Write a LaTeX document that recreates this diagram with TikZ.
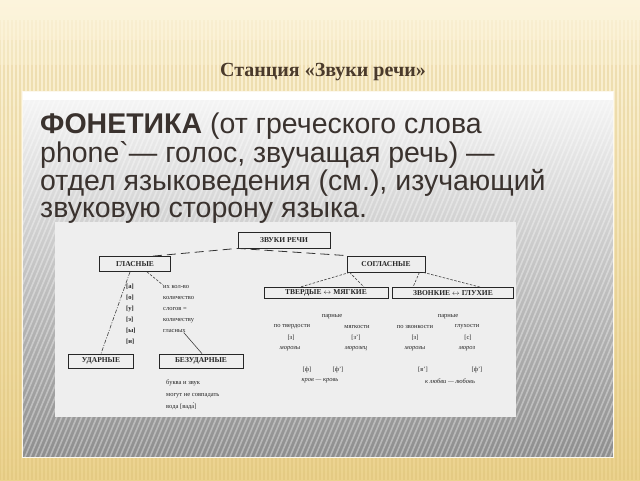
\documentclass[tikz,border=0pt]{standalone}
\usepackage{fontspec}
\setmainfont{Liberation Serif}
\newfontfamily\arialfont{Liberation Sans}

\definecolor{slideTop}{HTML}{FCF4DC}
\definecolor{slideBot}{HTML}{EBD28D}
\definecolor{slideStripe}{HTML}{D6BA6C}
\definecolor{titleBrown}{HTML}{4A3A2B}
\definecolor{panelTop}{HTML}{F7F7F7}
\definecolor{panelMid}{HTML}{BEBEBE}
\definecolor{panelBot}{HTML}{8E8E8E}
\definecolor{inkDark}{HTML}{3A322E}
\definecolor{chartBg}{HTML}{EEEEEE}

\tikzset{
  box/.style={draw=black!85, line width=0.8pt, inner sep=0pt, text=black!85,
    font=\bfseries\fontsize{7.5}{8}\selectfont},
  note/.style={inner sep=0pt, text=black!85, font=\fontsize{6.5}{7}\selectfont},
  noteit/.style={note, font=\itshape\fontsize{6.5}{7}\selectfont},
  bigline/.style={anchor=base west, inner sep=0pt, text=inkDark,
    font=\arialfont\fontsize{28.5}{30}\selectfont},
  link/.style={draw=black!75, line width=0.6pt, dash pattern=on 2.5pt off 1.5pt},
  stripe/.style={slideStripe, line width=1.2pt}
}

\begin{document}
\begin{tikzpicture}[x=1pt,y=-1pt]
  \useasboundingbox (0,0) rectangle (640,480);

  % slide background with stripes, fading towards the top
  \shade[top color=slideTop, bottom color=slideBot] (0,0) rectangle (640,480);
  \foreach \i in {0,4,...,640} {
    \draw[stripe, opacity=0.08] (\i,20) -- (\i,40);
    \draw[stripe, opacity=0.18] (\i,40) -- (\i,65);
    \draw[stripe, opacity=0.3] (\i,65) -- (\i,480);
  }

  % title
  \node[font=\bfseries\fontsize{20}{22}\selectfont, text=titleBrown] (title) at (323,72) {Станция «Звуки речи»};

  % grey panel
  \shade[top color=panelTop, middle color=panelMid, bottom color=panelBot] (22,91) rectangle (613,457);
  \begin{scope}
    \clip (22,100) rectangle (613,457);
    \foreach \i in {-160,-155,...,615}
      \draw[white, opacity=0.35, line width=1.6pt] (\i,457) -- (\i+150,100);
  \end{scope}
  \fill[white] (22,91) rectangle (613,100);
  \draw[white!85!slideBot, line width=0.8pt] (22,91) rectangle (613,457);

  % chart background
  \fill[chartBg] (55,222) rectangle (516,417);

  % definition text
  \node[bigline] (l1) at (40,133) {\textbf{ФОНЕТИКА} (от греческого слова};
  \node[bigline] (l2) at (40,162) {phone`— голос, звучащая речь) —};
  \node[bigline] (l3) at (40,190) {отдел языковедения (см.), изучающий};
  \node[bigline] (l4) at (40,217) {звуковую сторону языка.};

  % chart
  \node[box, minimum width=92pt, minimum height=16pt] (zv) at (284,240) {ЗВУКИ РЕЧИ};
  \node[box, minimum width=71pt, minimum height=15pt] (gl) at (135,264) {ГЛАСНЫЕ};
  \node[box, minimum width=78pt, minimum height=16pt] (sogl) at (386,264) {СОГЛАСНЫЕ};
  \node[box, minimum width=124pt, minimum height=11pt] (tv) at (326,293) {ТВЕРДЫЕ $\leftrightarrow$ МЯГКИЕ};
  \node[box, minimum width=121pt, minimum height=11pt] (zg) at (453,293) {ЗВОНКИЕ $\leftrightarrow$ ГЛУХИЕ};
  \node[box, minimum width=65pt, minimum height=14pt] (ud) at (101,361) {УДАРНЫЕ};
  \node[box, minimum width=84pt, minimum height=14pt] (bez) at (201,361) {БЕЗУДАРНЫЕ};

  % vowels
  \node[note, align=left, anchor=north west, font=\bfseries\fontsize{6.5}{11}\selectfont] (vow) at (126,284)
    {{[а]}\\{[о]}\\{[у]}\\{[э]}\\{[ы]}\\{[и]}};
  \node[note, align=left, anchor=north west, font=\fontsize{6.5}{11}\selectfont] (kol) at (163,285)
    {их кол-во\\количество\\слогов =\\количеству\\гласных};
  \node[note, align=left, anchor=north west, font=\fontsize{6.5}{12}\selectfont] (bukva) at (166,380)
    {буква и звук\\могут не совпадать\\вода {[вада́]}};

  % consonants: hard / soft
  \node[note] (par1) at (332,317) {парные};
  \node[note] (tverd) at (292,327) {по твердости};
  \node[note] (myag) at (357,327) {мягкости};
  \node[note] (z1) at (291,338) {[з]};
  \node[note] (z1s) at (356,338) {[з']};
  \node[noteit] (w1) at (290,349) {морозы};
  \node[noteit] (w2) at (356,349) {морозец};
  \node[note] (f1) at (307,370) {[ф]};
  \node[note] (f1s) at (338,370) {[ф']};
  \node[noteit] (w3) at (320,381) {кров — кровь};

  % consonants: voiced / voiceless
  \node[note] (par2) at (448,317) {парные};
  \node[note] (zvon) at (415,327) {по звонкости};
  \node[note] (gluh) at (467,327) {глухости};
  \node[note] (z2) at (415,338) {[з]};
  \node[note] (s2) at (468,338) {[с]};
  \node[noteit] (w4) at (415,349) {морозы};
  \node[noteit] (w5) at (467,349) {мороз};
  \node[note] (v2) at (423,370) {[в']};
  \node[note] (f2) at (477,370) {[ф']};
  \node[noteit] (w6) at (450,381) {к любви — любовь};

  % connectors
  \draw[black!80, line width=0.8pt, dash pattern=on 9pt off 5pt]
    ([xshift=-18pt]gl.north east) -- (zv.south west) -- (sogl.north west);
  \draw[black!75, line width=0.6pt, dash pattern=on 4pt off 1.5pt on 1pt off 1.5pt]
    ([xshift=-5pt]gl.south) -- (ud.north);
  \draw[link] ([xshift=12pt]gl.south) -- (kol.north west);
  \draw[black!75, line width=0.6pt] ([xshift=5pt]kol.south) -- ([xshift=1pt]bez.north);
  \draw[link] ([xshift=3pt]sogl.south west) -- ([xshift=-26pt]tv.north);
  \draw[link] ([xshift=3pt]sogl.south west) -- ([xshift=38pt]tv.north);
  \draw[link] ([xshift=-6pt]sogl.south east) -- ([xshift=-40pt]zg.north);
  \draw[link] ([xshift=-2pt]sogl.south east) -- ([xshift=27pt]zg.north);
\end{tikzpicture}
\end{document}
